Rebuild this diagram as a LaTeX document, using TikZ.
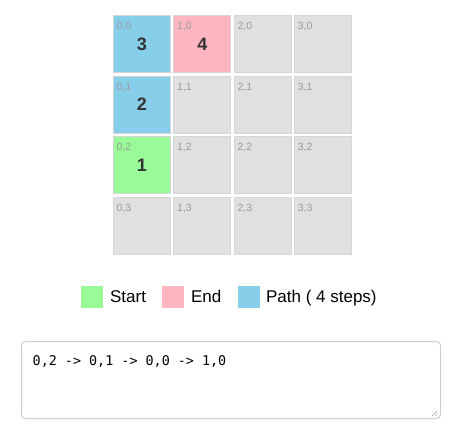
\documentclass[tikz,border=0pt]{standalone}
\usepackage{fontspec}
\usetikzlibrary{calc}
\setmainfont{Liberation Sans}
\newfontfamily\monofont{DejaVu Sans Mono}
\definecolor{cellgray}{HTML}{E0E0E0}
\definecolor{cellborder}{HTML}{D6D6D6}
\definecolor{pathblue}{HTML}{87CEEB}
\definecolor{endpink}{HTML}{FFB6C1}
\definecolor{startgreen}{HTML}{98FB98}
\definecolor{coordgray}{HTML}{9A9A9A}
\definecolor{numcol}{HTML}{333333}
\definecolor{areaborder}{HTML}{CFCFCF}
\tikzset{
  cell/.style={draw=cellborder, line width=1pt, minimum width=57pt, minimum height=57pt, inner sep=0pt, anchor=north west},
  coordlabel/.style={anchor=north west, inner sep=0pt, text=coordgray, font=\fontsize{10.5}{12}\selectfont},
  bignum/.style={inner sep=0pt, text=numcol, font=\fontsize{18}{21}\selectfont\bfseries},
  legbox/.style={minimum width=22pt, minimum height=22pt, inner sep=0pt, anchor=north west},
  legtext/.style={anchor=base west, inner sep=0pt, font=\fontsize{17}{20}\selectfont},
}
\begin{document}
\begin{tikzpicture}[x=1pt,y=-1pt]
\useasboundingbox (0,0) rectangle (469,425);
\fill[white] (0,0) rectangle (469,425);
% grid
\foreach \i/\j/\c in {0/0/pathblue,1/0/endpink,2/0/cellgray,3/0/cellgray,
                      0/1/pathblue,1/1/cellgray,2/1/cellgray,3/1/cellgray,
                      0/2/startgreen,1/2/cellgray,2/2/cellgray,3/2/cellgray,
                      0/3/cellgray,1/3/cellgray,2/3/cellgray,3/3/cellgray}{
  \node[cell, fill=\c] (c\i\j) at ({113+60.4*\i},{15+60.6*\j}) {};
  \node[coordlabel] (l\i\j) at ($(c\i\j.north west)+(3.5,7)$) {\i,\j};
}
\node[bignum] (n3) at (c00.center) {3};
\node[bignum] (n4) at (c10.center) {4};
\node[bignum] (n2) at (c01.center) {2};
\node[bignum] (n1) at (c02.center) {1};
% legend
\node[legbox, fill=startgreen] (ls) at (81,286) {};
\node[legtext] (lst) at ($(ls.south east)+(6.5,-6)$) {Start};
\node[legbox, fill=endpink] (le) at (162,286) {};
\node[legtext] (let) at ($(le.south east)+(6.5,-6)$) {End};
\node[legbox, fill=pathblue] (lp) at (238,286) {};
\node[legtext] (lpt) at ($(lp.south east)+(5.5,-6)$) {Path ( 4 steps)};
% text area
\draw[areaborder, line width=1pt, rounded corners=4pt] (21.5,341.5) rectangle (440.5,418.5);
\node[anchor=base west, inner sep=0pt, font=\monofont\fontsize{13.4}{16}\selectfont] (ta) at (32.5,365.5) {0,2 -> 0,1 -> 0,0 -> 1,0};
% resize grip
\draw[gray!70, line width=0.7pt] (437,411) -- (432,416) (437,414) -- (435,416);
\end{tikzpicture}
\end{document}
